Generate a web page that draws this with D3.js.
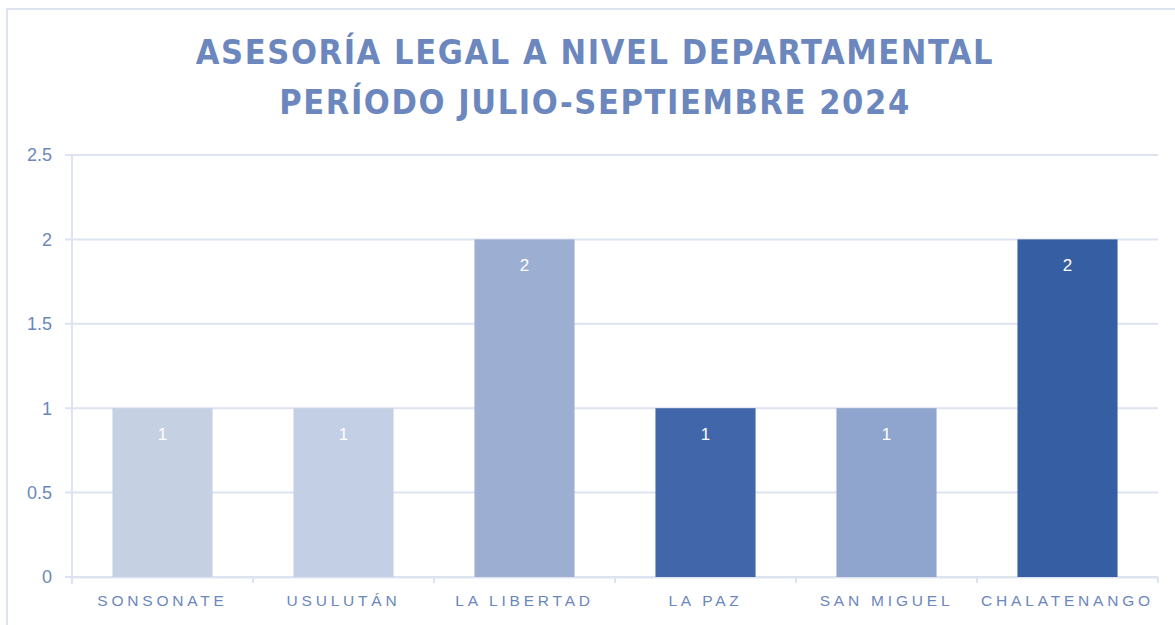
<!DOCTYPE html>
<html>
<head>
<meta charset="utf-8">
<script src="https://cdn.jsdelivr.net/npm/d3@7"></script>
<style>
  body { margin: 0; background: #fff; }
  svg { display: block; }
</style>
</head>
<body>
<svg id="chart" width="1175" height="625"></svg>
<script>
// data
var departamentos = ["SONSONATE", "USULUTÁN", "LA LIBERTAD", "LA PAZ", "SAN MIGUEL", "CHALATENANGO"];
var asesorias = [1, 1, 2, 1, 1, 2];
var barColors = ["#c5d0e3", "#c3cfe4", "#9cafd3", "#4166a9", "#8fa5cd", "#365ea3"];
var yTicks = [0, 0.5, 1, 1.5, 2, 2.5];
var titleLines = ["ASESORÍA LEGAL A NIVEL DEPARTAMENTAL", "PERÍODO JULIO-SEPTIEMBRE 2024"];

var svg = d3.select("#chart");
var textColor = "#6b87bd";
var gridColor = "#dde3ef";

var margin = {left: 72, right: 17, top: 155, bottom: 48};
var width = 1175 - margin.left - margin.right,
    height = 625 - margin.top - margin.bottom;

// outer frame
svg.append("rect")
  .attr("x", 7).attr("y", 9)
  .attr("width", 1180).attr("height", 640)
  .attr("fill", "none")
  .attr("stroke", gridColor)
  .attr("stroke-width", 2);

// title
svg.selectAll(".title")
  .data(titleLines)
  .enter().append("text")
  .attr("class", "title")
  .attr("x", 595)
  .attr("y", function(d, i) { return 64 + i * 50; })
  .attr("text-anchor", "middle")
  .style("font-family", "'DejaVu Sans Condensed', 'DejaVu Sans'")
  .style("font-weight", "bold")
  .style("font-stretch", "condensed")
  .style("font-size", "34px")
  .style("letter-spacing", "1.6px")
  .style("fill", textColor)
  .text(function(d) { return d; });

var x = d3.scaleBand()
  .domain(departamentos)
  .range([0, width])
  .paddingInner(0.447)
  .paddingOuter(0.2235);

var y = d3.scaleLinear()
  .domain([0, 2.5])
  .range([height, 0]);

var g = svg.append("g")
  .attr("transform", "translate(" + margin.left + "," + margin.top + ")");

// gridlines
g.append("g")
  .selectAll("line")
  .data(yTicks)
  .enter().append("line")
  .attr("x1", -7)
  .attr("x2", width)
  .attr("y1", function(d) { return y(d); })
  .attr("y2", function(d) { return y(d); })
  .attr("stroke", gridColor)
  .attr("stroke-width", 2);

// y axis line
g.append("line")
  .attr("x1", 0).attr("x2", 0)
  .attr("y1", 0).attr("y2", height + 7)
  .attr("stroke", gridColor)
  .attr("stroke-width", 2);

// y tick labels
g.append("g")
  .selectAll("text")
  .data(yTicks)
  .enter().append("text")
  .attr("x", -20)
  .attr("y", function(d) { return y(d); })
  .attr("dy", "0.35em")
  .attr("text-anchor", "end")
  .style("font-family", "'Liberation Sans', Arial, sans-serif")
  .style("font-size", "18px")
  .style("fill", textColor)
  .text(function(d) { return d; });

// x axis
var xAxis = g.append("g")
  .attr("transform", "translate(0," + height + ")")
  .call(d3.axisBottom(x).tickSize(0).tickPadding(18));
xAxis.select(".domain").attr("stroke", gridColor).attr("stroke-width", 2);
xAxis.selectAll("text")
  .style("font-family", "'Liberation Sans', Arial, sans-serif")
  .style("font-size", "15.5px")
  .style("letter-spacing", "3.8px")
  .style("fill", textColor);

// boundary ticks between categories
var step = x.step();
xAxis.selectAll(".sep")
  .data(d3.range(departamentos.length + 1))
  .enter().append("line")
  .attr("class", "sep")
  .attr("x1", function(i) { return i * step; })
  .attr("x2", function(i) { return i * step; })
  .attr("y1", 0).attr("y2", 6)
  .attr("stroke", gridColor)
  .attr("stroke-width", 2);

var rows = departamentos.map(function(d, i) {
  return {name: d, value: asesorias[i], color: barColors[i]};
});

// bars
g.selectAll(".bar")
  .data(rows)
  .enter().append("rect")
  .attr("class", "bar")
  .attr("x", function(d) { return x(d.name); })
  .attr("y", function(d) { return y(d.value); })
  .attr("width", x.bandwidth())
  .attr("height", function(d) { return height - y(d.value); })
  .attr("fill", function(d) { return d.color; });

// value labels
g.selectAll(".val")
  .data(rows)
  .enter().append("text")
  .attr("class", "val")
  .attr("x", function(d) { return x(d.name) + x.bandwidth() / 2; })
  .attr("y", function(d) { return y(d.value) + 26; })
  .attr("dy", "0.35em")
  .attr("text-anchor", "middle")
  .style("font-family", "'Liberation Sans', Arial, sans-serif")
  .style("font-size", "17px")
  .style("fill", "#ffffff")
  .text(function(d) { return d.value; });
</script>
</body>
</html>
